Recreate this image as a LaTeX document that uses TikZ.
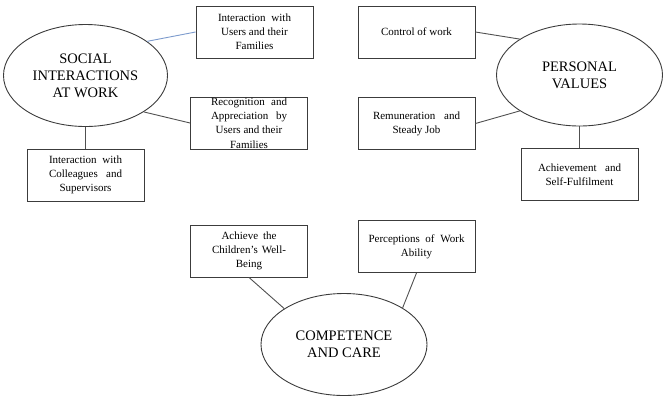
\documentclass[tikz,border=0pt]{standalone}
\usepackage{fontspec}
\setmainfont{Liberation Serif}
\usetikzlibrary{shapes.geometric}
\definecolor{edge}{RGB}{60,60,60}
\definecolor{link}{RGB}{80,80,80}
\definecolor{bluelink}{RGB}{125,155,205}
\tikzset{
  oval/.style={draw=edge, line width=0.9pt, ellipse, inner sep=0pt,
    minimum width=#1, minimum height=102pt},
  oval/.default=166pt,
  rbox/.style={draw=edge, line width=0.9pt, rectangle, inner sep=0pt,
    minimum width=117pt, minimum height=52pt},
  ovaltext/.style={align=center, inner sep=0pt,
    font=\fontsize{14.5}{17}\selectfont},
  boxtext/.style={align=center, inner sep=0pt,
    font=\fontsize{11}{14.2}\selectfont},
  conn/.style={draw=link, line width=0.9pt},
  bconn/.style={draw=bluelink, line width=0.9pt}
}
\newcommand{\jl}[2]{\makebox[#1pt][s]{#2}}
\begin{document}
\begin{tikzpicture}[x=1pt,y=-1pt]
\useasboundingbox (0,0) rectangle (666,400);
% ellipses
\node[oval=164pt] (soc) at (85.5,75.5) {};
\node[ovaltext] (soct) at (soc.center) {SOCIAL\\INTERACTIONS\\AT WORK};
\node[oval=166pt] (pers) at (579.5,75) {};
\node[ovaltext] (perst) at (pers.center) {PERSONAL\\VALUES};
\node[oval=166pt] (comp) at (344,344.5) {};
\node[ovaltext] (compt) at (comp.center) {COMPETENCE\\AND CARE};
% boxes
\node[rbox] (ius) at (254.5,32) {};
\node[boxtext] (iust) at (ius.center) {\jl{73}{Interaction with}\\Users and their\\Families};
\node[rbox] (rec) at (249,123) {};
\node[boxtext] (rect) at (rec.center) {\jl{76}{Recognition and}\\\jl{76}{Appreciation by}\\Users and their\\Families};
\node[rbox] (icol) at (85.5,175) {};
\node[boxtext] (icolt) at (icol.center) {\jl{73}{Interaction with}\\\jl{73}{Colleagues and}\\Supervisors};
\node[rbox] (ctrl) at (416.5,32) {};
\node[boxtext] (ctrlt) at (ctrl.center) {Control of work};
\node[rbox] (rem) at (416.5,123.5) {};
\node[boxtext] (remt) at (rem.center) {\jl{87}{Remuneration and}\\Steady Job};
\node[rbox] (ach) at (579.5,174.5) {};
\node[boxtext] (acht) at (ach.center) {\jl{83}{Achievement and}\\Self-Fulfilment};
\node[rbox] (wb) at (249,251) {};
\node[boxtext] (wbt) at (wb.center) {\jl{55}{Achieve the}\\\jl{74}{Children’s Well-}\\Being};
\node[rbox] (pwa) at (416.5,246.5) {};
\node[boxtext] (pwat) at (pwa.center) {\jl{96}{Perceptions of Work}\\Ability};
% connectors
\draw[bconn] (soc.29) -- (ius.west);
\draw[conn] (soc.-32) -- (rec.west);
\draw[conn] (soc.south) -- (soc.south |- icol.north);
\draw[conn] (ctrl.east) -- (pers.149);
\draw[conn] (rem.east) -- (pers.211);
\draw[conn] (pers.south) -- (ach.north);
\draw[conn] (wb.south) -- (comp.149);
\draw[conn] (pwa.south) -- (comp.32);
\end{tikzpicture}
\end{document}
